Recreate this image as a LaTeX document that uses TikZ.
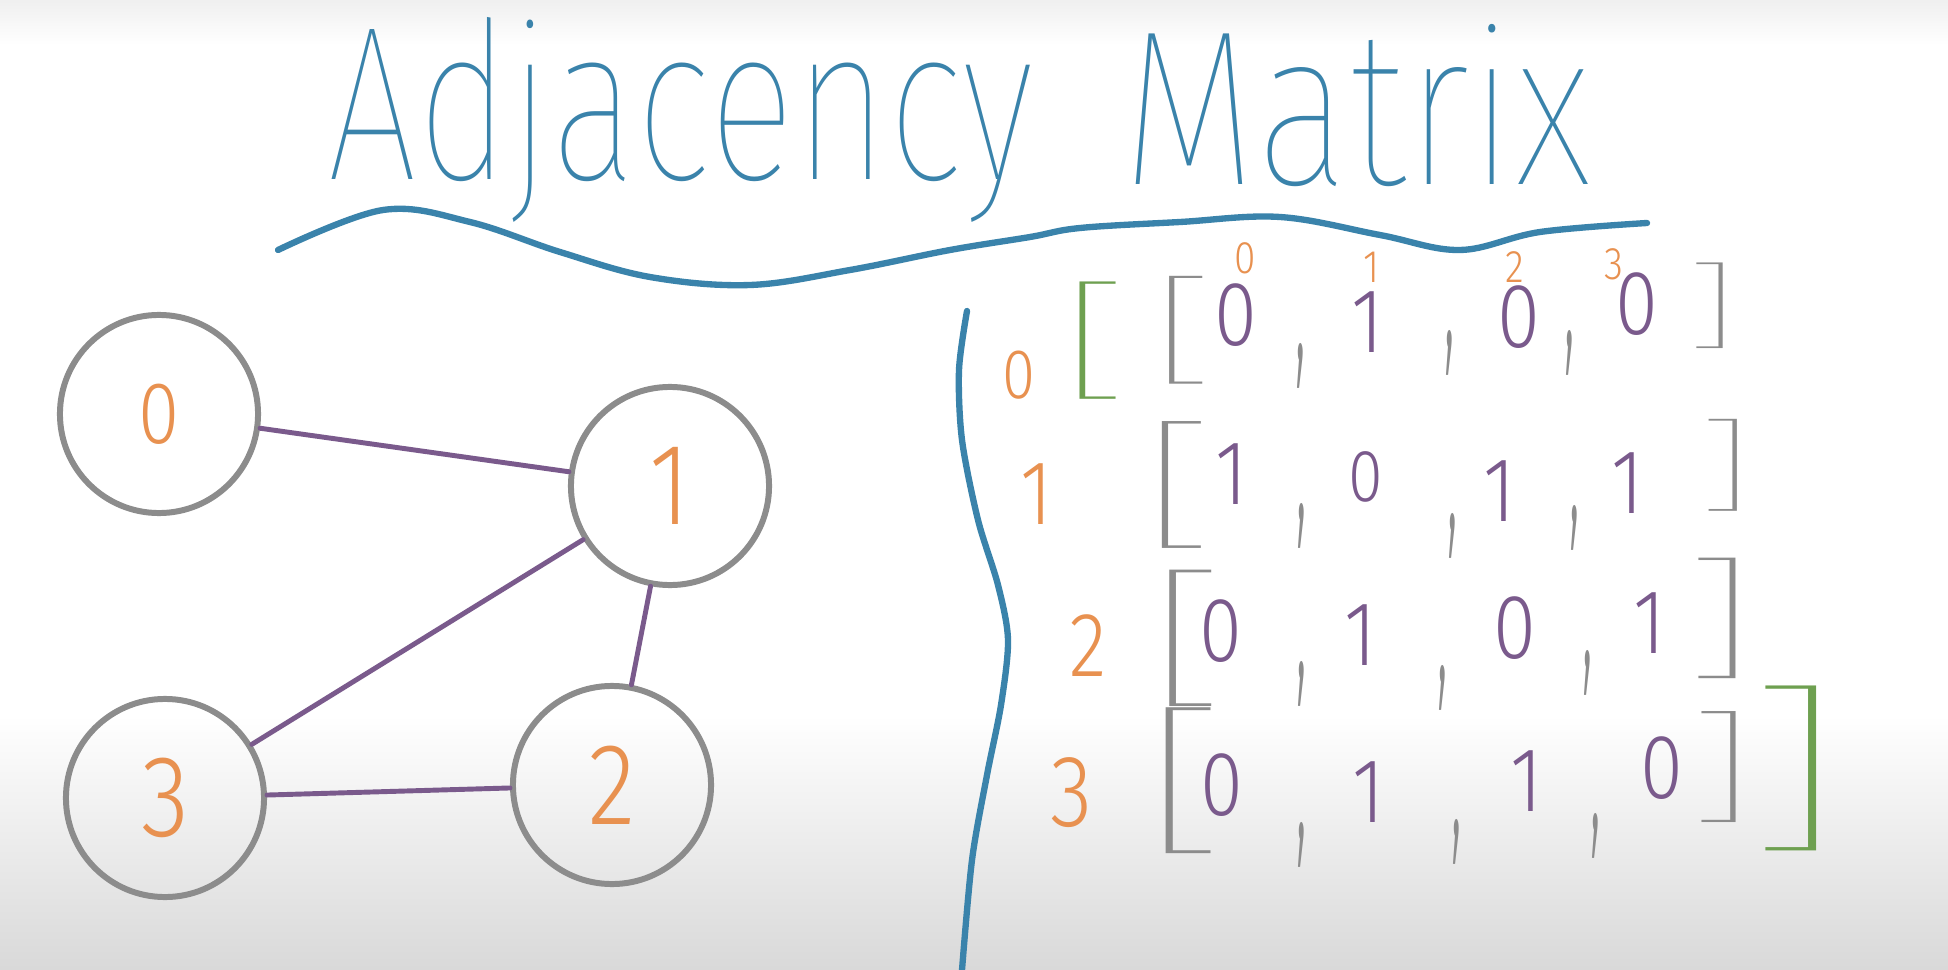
\documentclass[tikz,border=0pt]{standalone}
\usepackage{graphicx}
\usepackage{fontspec}
\newfontfamily\handfont{Fira Sans}[UprightFont = * Light, FakeStretch = 0.85]
\newfontfamily\thinfont{Fira Sans}[UprightFont = * Thin]
\definecolor{penblue}{HTML}{3A83AB}
\definecolor{penorange}{HTML}{E89150}
\definecolor{penpurple}{HTML}{7A5A8C}
\definecolor{pengrey}{HTML}{8C8C8C}
\definecolor{pengreen}{HTML}{6EA050}
\newcommand{\wide}[1]{\scalebox{2.2}[1]{#1}}
\newcommand{\tick}[1]{\scalebox{0.5}[1.6]{#1}}

\begin{document}
\begin{tikzpicture}[x = 0.01cm, y = -0.01cm, line cap = round,
    vertex/.style = {circle, draw = pengrey, line width = 1.7pt, minimum size = 1.98cm, inner sep = 0pt,
                     text = penorange, font = \fontsize{33}{33}\selectfont\handfont},
    edge/.style = {draw = penpurple, line width = 1.4pt},
    entry/.style = {text = penpurple, inner sep = 0pt, font = \fontsize{26}{26}\selectfont\handfont},
    comma/.style = {text = pengrey, inner sep = 0pt, font = \fontsize{34}{34}\selectfont\handfont},
    rowlabel/.style = {text = penorange, inner sep = 0pt, font = \fontsize{#1}{#1}\selectfont\handfont},
    colindex/.style = {text = penorange, inner sep = 0pt, font = \fontsize{13}{13}\selectfont\handfont},
    bracket/.style = {text = pengrey, inner sep = 0pt, font = \fontsize{#1}{#1}\selectfont\thinfont},
    outerbracket/.style = {text = pengreen, inner sep = 0pt, font = \fontsize{#1}{#1}\selectfont\thinfont},
    pen/.style = {draw = penblue, line width = 1.8pt},
    heading/.style = {text = penblue, anchor = base west, inner sep = 0pt}]
      \useasboundingbox (0, 0) rectangle (1948, 970);
      \fill [white] (0, 0) rectangle (1948, 970);
      \shade [top color = black!6, bottom color = white] (0, 0) rectangle (1948, 45);
      \shade [top color = white, bottom color = black!15] (0, 715) rectangle (1948, 970);

      \node [heading] (adj) at (327, 180){\resizebox{7.06cm}{1.62cm}{\thinfont Adjacency}};
      \node [heading] (mat) at (1122, 185){\resizebox{4.68cm}{1.6cm}{\thinfont Matrix}};
      \draw [pen] plot [smooth, tension = 0.6] coordinates {(278, 250) (383, 210) (470, 222) (560, 252) (650, 277)
            (750, 285) (850, 270) (950, 250) (1030, 237) (1080, 228) (1180, 222) (1280, 217) (1380, 235)
            (1460, 250) (1540, 232) (1647, 223)};
      \draw [pen] plot [smooth] coordinates {(967, 311) (959, 370) (962, 440) (978, 520) (998, 585)
            (1008, 640) (1001, 705) (987, 775) (972, 860) (962, 970)};

      \node [vertex] (v0) at (159, 414){\fontsize{25}{25}\selectfont 0};
      \node [vertex] (v1) at (670, 486){1};
      \node [vertex] (v2) at (612, 785){2};
      \node [vertex] (v3) at (165, 798){3};

      \draw [edge] (v0) -- (v1);
      \draw [edge] (v1) -- (v3);
      \draw [edge] (v1) -- (v2);
      \draw [edge] (v3) -- (v2);

      \node [rowlabel = 20] (r0) at (1019, 375){0};
      \node [rowlabel = 26] (r1) at (1037, 494){1};
      \node [rowlabel = 26] (r2) at (1088, 646){2};
      \node [rowlabel = 29] (r3) at (1072, 793){3};

      \node [colindex] (c0) at (1245, 258){0};
      \node [colindex] (c1) at (1372, 267){1};
      \node [colindex] (c2) at (1515, 267){2};
      \node [colindex] (c3) at (1614, 264){3};

      \node [outerbracket = 37] (lo) at (1095, 341){\wide{[}};
      \node [outerbracket = 52] (ro) at (1795, 768){\wide{]}};

      \node [bracket = 34] (lb0) at (1184, 330){\wide{[}};
      \node [entry] (a00) at (1236, 315){0};
      \node [comma] (k00) at (1301, 366){\tick{,}};
      \node [entry] (a01) at (1368, 322){1};
      \node [comma] (k01) at (1450, 353){\tick{,}};
      \node [entry] (a02) at (1519, 317){0};
      \node [comma] (k02) at (1570, 353){\tick{,}};
      \node [entry] (a03) at (1637, 304){0};
      \node [bracket = 27] (rb0) at (1712, 306){\wide{]}};

      \node [bracket = 40] (lb1) at (1179, 485){\wide{[}};
      \node [entry] (a10) at (1232, 474){1};
      \node [comma] (k10) at (1302, 526){\tick{,}};
      \node [entry, font = \fontsize{21}{21}\selectfont\handfont] (a11) at (1366, 477){0};
      \node [comma] (k11) at (1453, 536){\tick{,}};
      \node [entry] (a12) at (1500, 491){1};
      \node [comma] (k12) at (1575, 528){\tick{,}};
      \node [entry] (a13) at (1628, 483){1};
      \node [bracket = 29] (rb1) at (1725, 465){\wide{]}};

      \node [bracket = 43] (lb2) at (1187, 638){\wide{[}};
      \node [entry] (a20) at (1221, 631){0};
      \node [comma] (k20) at (1302, 684){\tick{,}};
      \node [entry] (a21) at (1361, 635){1};
      \node [comma] (k21) at (1443, 688){\tick{,}};
      \node [entry] (a22) at (1515, 628){0};
      \node [comma] (k22) at (1588, 673){\tick{,}};
      \node [entry] (a23) at (1650, 623){1};
      \node [bracket = 38] (rb2) at (1720, 618){\wide{]}};

      \node [bracket = 46] (lb3) at (1185, 781){\wide{[}};
      \node [entry] (a30) at (1222, 785){0};
      \node [comma] (k30) at (1302, 845){\tick{,}};
      \node [entry] (a31) at (1369, 792){1};
      \node [comma] (k31) at (1457, 842){\tick{,}};
      \node [entry] (a32) at (1527, 781){1};
      \node [comma] (k32) at (1596, 836){\tick{,}};
      \node [entry] (a33) at (1662, 768){0};
      \node [bracket = 35] (rb3) at (1722, 767){\wide{]}};
\end{tikzpicture}
\end{document}
